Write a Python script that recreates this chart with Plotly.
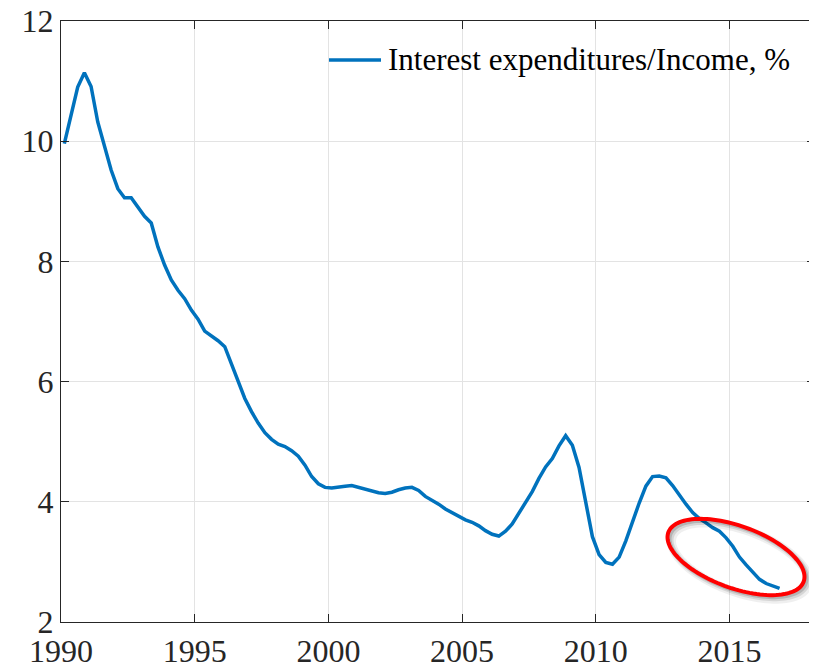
import numpy as np
import plotly.graph_objects as go

# quarterly series, 1990Q1 .. 2016Q4
start_year = 1990
ratio = [
    9.96, 10.46, 10.90, 11.14, 10.91, 10.32, 9.93, 9.52, 9.21, 9.06,
    9.06, 8.91, 8.75, 8.64, 8.24, 7.94, 7.69, 7.52, 7.38, 7.19,
    7.04, 6.84, 6.76, 6.68, 6.58, 6.30, 6.00, 5.72, 5.50, 5.31,
    5.15, 5.04, 4.96, 4.92, 4.85, 4.76, 4.61, 4.42, 4.30, 4.24,
    4.23, 4.25, 4.26, 4.27, 4.24, 4.20, 4.18, 4.15, 4.14, 4.16,
    4.20, 4.23, 4.24, 4.19, 4.09, 4.03, 3.96, 3.88, 3.82, 3.76,
    3.70, 3.66, 3.60, 3.52, 3.46, 3.43, 3.51, 3.63, 3.81, 3.97,
    4.17, 4.39, 4.58, 4.72, 4.93, 5.10, 4.94, 4.57, 4.00, 3.42,
    3.12, 2.99, 2.96, 3.08, 3.35, 3.68, 3.98, 4.26, 4.42, 4.43,
    4.40, 4.27, 4.11, 3.96, 3.82, 3.72, 3.65, 3.57, 3.51, 3.40,
    3.26, 3.08, 2.95, 2.82, 2.71, 2.64, 2.60, 2.56,
]
dates = [start_year + 0.125 + 0.25 * i for i in range(len(ratio))]
series_name = "Interest expenditures/Income, %"

OFF = 8  # page body margin
W, H = 817 - OFF, 669 - OFF
L, T = 61 - OFF, 21 - OFF
R, B = W - (815 - OFF), H - (622 - OFF)
PW, PH = W - L - R, H - T - B
xr = [1990, 2018.2]
yr = [2, 12]


def px_to_data(px, py):
    # px, py are screen pixels
    x = xr[0] + (px - OFF - L) / PW * (xr[1] - xr[0])
    y = yr[1] - (py - OFF - T) / PH * (yr[1] - yr[0])
    return x, y


def px_to_paper(px, py):
    return (px - OFF - L) / PW, 1 - (py - OFF - T) / PH


def ellipse_path(cx, cy, a, b, ang, dx=0, dy=0):
    t = np.linspace(0, 2 * np.pi, 120)
    c, s = np.cos(np.radians(ang)), np.sin(np.radians(ang))
    pts = []
    for tt in t:
        ex, ey = a * np.cos(tt), b * np.sin(tt)
        pts.append(px_to_data(cx + ex * c - ey * s + dx, cy + ex * s + ey * c + dy))
    return "M " + " L ".join(f"{x:.4f},{y:.4f}" for x, y in pts) + " Z"


fig = go.Figure()
fig.add_trace(go.Scatter(
    x=dates, y=ratio, mode="lines",
    line=dict(color="#0072BD", width=3.5),
    name=series_name, showlegend=False,
))

# red highlight ellipse with soft shadow
for w, op, off in [(9, 0.06, 4), (6, 0.10, 3), (4, 0.15, 2)]:
    fig.add_shape(type="path", path=ellipse_path(736, 557, 72, 31, 20, off, off),
                  line=dict(color="black", width=w), opacity=op)
fig.add_shape(type="path", path=ellipse_path(736, 557, 72, 31, 20),
              line=dict(color="#FF0000", width=4))

# legend drawn by hand (MATLAB style, long sample line, no box)
lx0, ly = px_to_paper(329, 60)
lx1, _ = px_to_paper(381, 60)
tx, _ = px_to_paper(386, 60)
fig.add_shape(type="line", xref="paper", yref="paper", x0=lx0, x1=lx1, y0=ly, y1=ly,
              line=dict(color="#0072BD", width=3.5))
fig.add_annotation(xref="paper", yref="paper", x=tx, y=ly, text=series_name,
                   showarrow=False, xanchor="left", yanchor="middle",
                   font=dict(family="Liberation Serif", size=31, color="black"))

axis_common = dict(
    showline=True, mirror="ticks", linecolor="#262626", linewidth=1.3,
    ticks="inside", ticklen=8, tickcolor="#262626",
    showgrid=True, gridcolor="#E3E3E3", gridwidth=1,
    zeroline=False, automargin=False, ticklabeloverflow="allow",
    tickfont=dict(family="Liberation Serif", size=32, color="#262626"),
)

fig.update_layout(
    width=W, height=H,
    margin=dict(l=L, r=R, t=T, b=B),
    plot_bgcolor="white", paper_bgcolor="white",
    xaxis=dict(range=xr, tickvals=[1990, 1995, 2000, 2005, 2010, 2015], **axis_common),
    yaxis=dict(range=yr, tickvals=[2, 4, 6, 8, 10, 12], **axis_common),
    showlegend=False,
)

fig.write_html("out.html")
